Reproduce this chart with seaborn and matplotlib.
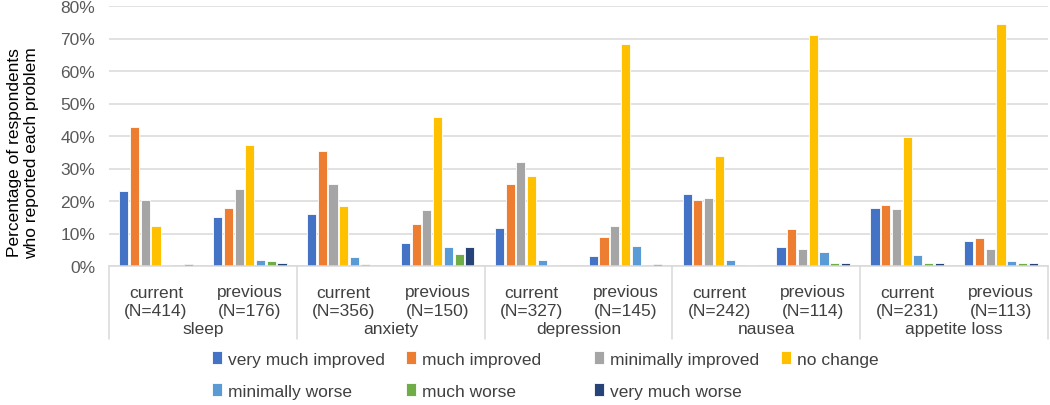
import matplotlib
matplotlib.use('Agg')
import matplotlib.pyplot as plt
import matplotlib.transforms as mtransforms
import pandas as pd
import seaborn as sns

problems = ['sleep', 'anxiety', 'depression', 'nausea', 'appetite loss']
periods = ['current', 'previous']
sample_sizes = [414, 176, 356, 150, 327, 145, 242, 114, 231, 113]
responses = ['very much improved', 'much improved', 'minimally improved', 'no change',
             'minimally worse', 'much worse', 'very much worse']
colors = ['#4472C4', '#ED7D31', '#A5A5A5', '#FFC000', '#5B9BD5', '#70AD47', '#264478']

# percent of respondents, order: sleep cur/prev, anxiety cur/prev, ...
very_much_improved = [23.0, 15.2, 16.0, 7.1, 11.7, 3.2, 22.2, 5.9, 18.0, 7.8]
much_improved = [42.9, 18.0, 35.5, 13.0, 25.3, 8.8, 20.2, 11.3, 18.9, 8.7]
minimally_improved = [20.3, 23.7, 25.1, 17.1, 31.9, 12.2, 20.9, 5.1, 17.6, 5.2]
no_change = [12.3, 37.3, 18.6, 45.8, 27.6, 68.2, 33.7, 71.1, 39.8, 74.4]
minimally_worse = [0.2, 2.0, 2.9, 5.7, 1.9, 6.1, 1.9, 4.2, 3.3, 1.5]
much_worse = [0.0, 1.4, 0.6, 3.8, 0.4, 0.0, 0.0, 0.8, 0.8, 0.8]
very_much_worse = [0.5, 0.9, 0.0, 5.7, 0.0, 0.7, 0.4, 0.8, 0.8, 0.8]

series = [very_much_improved, much_improved, minimally_improved, no_change,
          minimally_worse, much_worse, very_much_worse]

# long-form table
slots = [f'{p}|{t}' for p in problems for t in periods]
rows = []
for resp, vals in zip(responses, series):
    for slot, v in zip(slots, vals):
        rows.append({'slot': slot, 'response': resp, 'pct': v})
df = pd.DataFrame(rows)

sns.set_theme(style='white')
plt.rcParams['font.family'] = ['Liberation Sans', 'DejaVu Sans']

fig = plt.figure(figsize=(10.5, 4.06), dpi=100)
ax = fig.add_axes([109 / 1050, 1 - 267 / 406, 939 / 1050, 260 / 406])

sns.barplot(data=df, x='slot', y='pct', hue='response', order=slots,
            hue_order=responses, palette=colors, width=0.8, gap=0.15,
            edgecolor='white', linewidth=0.6, saturation=1, ax=ax)

handles, labels = ax.get_legend_handles_labels()
ax.get_legend().remove()

ax.set_ylim(0, 80)
ax.set_xlim(-0.5, len(slots) - 0.5)
ax.set_yticks(range(0, 81, 10))
ax.set_yticklabels([f'{v}%' for v in range(0, 81, 10)], fontsize=12.5, color='#595959')
ax.tick_params(axis='y', length=0, pad=10)
ax.set_xticks([])
ax.set_xlabel('')
ax.set_ylabel('')
ax.grid(axis='y', color='#D9D9D9', linewidth=1.1)
ax.set_axisbelow(True)
for s in ['left', 'right', 'top']:
    ax.spines[s].set_visible(False)
ax.spines['bottom'].set_color('#D9D9D9')
ax.spines['bottom'].set_linewidth(1.1)

# multi-level category axis
trans = mtransforms.blended_transform_factory(ax.transData, ax.transAxes)
for i, n in enumerate(sample_sizes):
    ax.text(i, -0.10, periods[i % 2], transform=trans, ha='center', va='center',
            fontsize=12.5, color='#404040')
    ax.text(i, -0.173, f'(N={n})', transform=trans, ha='center', va='center',
            fontsize=12.5, color='#404040')
for g, name in enumerate(problems):
    ax.text(2 * g + 0.5, -0.242, name, transform=trans, ha='center', va='center',
            fontsize=12.5, color='#404040')
for b in range(len(problems) + 1):
    ax.plot([2 * b - 0.5, 2 * b - 0.5], [0, -0.281], transform=trans,
            color='#D9D9D9', linewidth=1.1, clip_on=False)

fig.text(23 / 1050, 1 - 153 / 406, 'Percentage of respondents\nwho reported each problem',
         rotation=90, ha='center', va='center', fontsize=12.5, color='black',
         linespacing=1.2)

# legend: four columns at fixed positions
col_x = [212, 406, 594, 781]
col_items = [[0, 4], [1, 5], [2, 6], [3]]
for x, items in zip(col_x, col_items):
    fig.legend([handles[k] for k in items], [labels[k] for k in items],
               loc='upper left', bbox_to_anchor=(x / 1050, 1 - 352 / 406),
               frameon=False, fontsize=12.5, handlelength=0.6, handleheight=0.8,
               handletextpad=0.3, labelspacing=0.95, borderaxespad=0,
               borderpad=0, labelcolor='#404040')

fig.savefig('out.png', dpi=100)
